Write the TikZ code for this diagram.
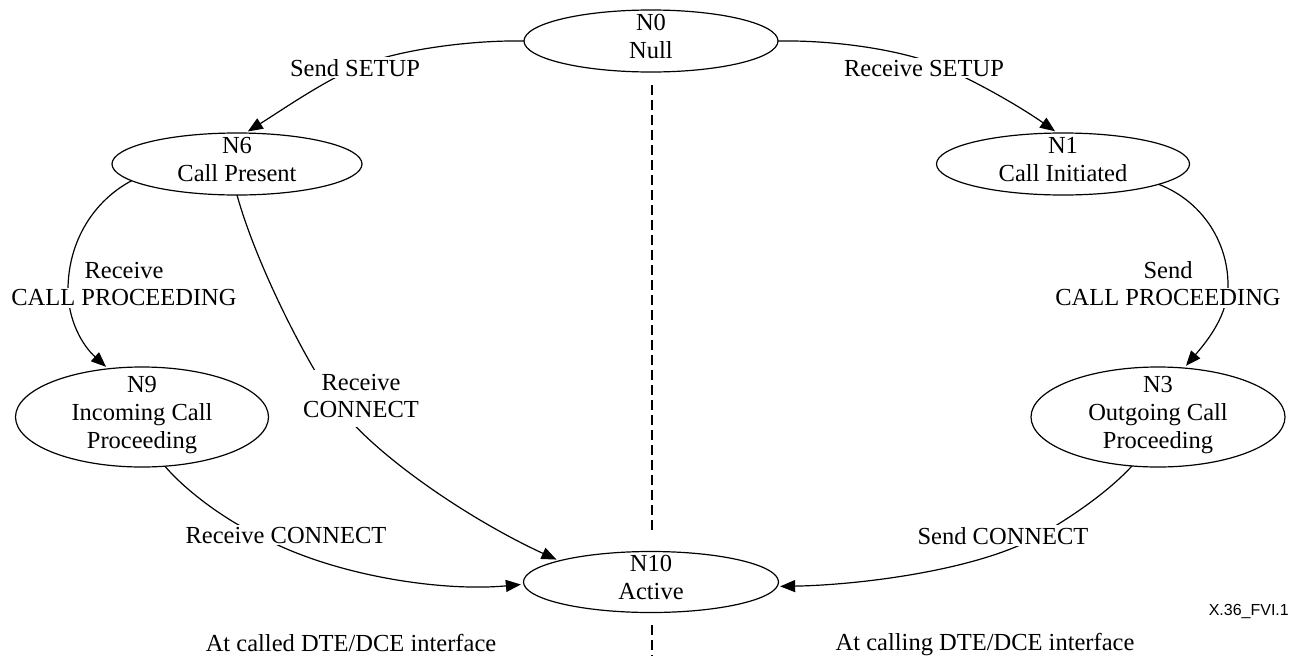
\documentclass[tikz,border=0pt]{standalone}
\usepackage{fontspec}
\setmainfont{Liberation Serif}
\newfontfamily\figsans{Liberation Sans}
\usetikzlibrary{shapes.geometric,arrows.meta}
\pgfdeclarelayer{background}
\pgfsetlayers{background,main}
\setlength{\fboxsep}{1.5pt}
\newcommand\mystack[1]{\smash{\raisebox{-4pt}{\begin{tabular}[c]{@{}c@{}}#1\end{tabular}}}}
\newcommand\mylines[1]{\begin{tabular}[t]{@{}c@{}}#1\end{tabular}}
\begin{document}
\begin{tikzpicture}[x=1pt,y=-1pt,
  font=\fontsize{24.5}{27.8}\selectfont,
  state/.style={draw, ellipse, line width=1.2pt, inner sep=0pt, outer sep=0pt},
  lab/.style={fill=white, inner sep=2pt, anchor=base},
  plainlab/.style={inner sep=0pt, anchor=base},
  edge/.style={line width=1.2pt, -{Triangle[length=15pt,width=12pt]}, shorten >=3pt},
  divider/.style={line width=2pt, dash pattern=on 10pt off 5pt}]
\useasboundingbox (0,0) rectangle (1297,656);

% states
\node[state, minimum width=254pt, minimum height=62pt] (n0) at (651,41) {\mystack{N0\\Null}};
\node[state, minimum width=250pt, minimum height=62pt] (n6) at (237,164) {\mystack{N6\\Call Present}};
\node[state, minimum width=253pt, minimum height=62pt] (n1) at (1063,164) {\mystack{N1\\Call Initiated}};
\node[state, minimum width=253pt, minimum height=100pt] (n9) at (142,417) {\mystack{N9\\Incoming Call\\Proceeding}};
\node[state, minimum width=254pt, minimum height=100pt] (n3) at (1158,417) {\mystack{N3\\Outgoing Call\\Proceeding}};
\node[state, minimum width=255pt, minimum height=61pt] (n10) at (651,582) {\mystack{N10\\Active}};

% labels
\node[lab] (l1) at (355,76) {Send SETUP};
\node[lab] (r1) at (924,76) {Receive SETUP};
\node[plainlab] (l3) at (124,278) {\mylines{Receive\\\colorbox{white}{CALL PROCEEDING}}};
\node[plainlab] (r3) at (1168,278) {\mylines{Send\\\colorbox{white}{CALL PROCEEDING}}};
\node[lab, inner sep=1pt] (l4) at (361,390) {\mylines{Receive\\CONNECT}};
\node[lab] (l5) at (286,543) {Receive CONNECT};
\node[lab] (r5) at (1003,544) {Send CONNECT};

\node[plainlab] (side1) at (351,651) {At called DTE/DCE interface};
\node[plainlab] (side2) at (985,650) {At calling DTE/DCE interface};
\node[plainlab, anchor=base east, font=\figsans\fontsize{16}{18}\selectfont] (figid) at (1289,615) {X.36\_FVI.1};

% divider
\coordinate (d1) at (652,85);
\coordinate (d2) at (652,532);
\coordinate (d3) at (652,625);
\coordinate (d4) at (652,656);
\draw[divider] (d1) -- (d2);
\draw[divider] (d3) -- (d4);

% transitions
\begin{pgfonlayer}{background}
\draw[edge] (n0.west) .. controls (470,40) and (395,50) .. (l1.center)
  .. controls (318,85) and (285,108) .. (n6.75);
\draw[edge] (n0.east) .. controls (835,40) and (905,50) .. (945,68)
  .. controls (985,86) and (1025,110) .. (n1.100);
\draw[edge] (n6.189) .. controls (95,200) and (68,240) .. (68,290)
  .. controls (68,320) and (82,345) .. (n9.125);
\draw[edge] (n1.348) .. controls (1200,200) and (1228,240) .. (1228,285)
  .. controls (1228,315) and (1208,340) .. (n3.62);
\draw[edge] (n6.south) .. controls (255,260) and (300,350) .. (330,395)
  .. controls (365,450) and (470,520) .. (n10.167);
\draw[edge] (n9.295) .. controls (185,490) and (225,520) .. (258,535)
  .. controls (330,575) and (440,592) .. (n10.181);
\draw[edge] (n3.242) .. controls (1110,490) and (1075,515) .. (1040,535)
  .. controls (980,570) and (860,585) .. (n10.358);
\end{pgfonlayer}
\end{tikzpicture}
\end{document}
